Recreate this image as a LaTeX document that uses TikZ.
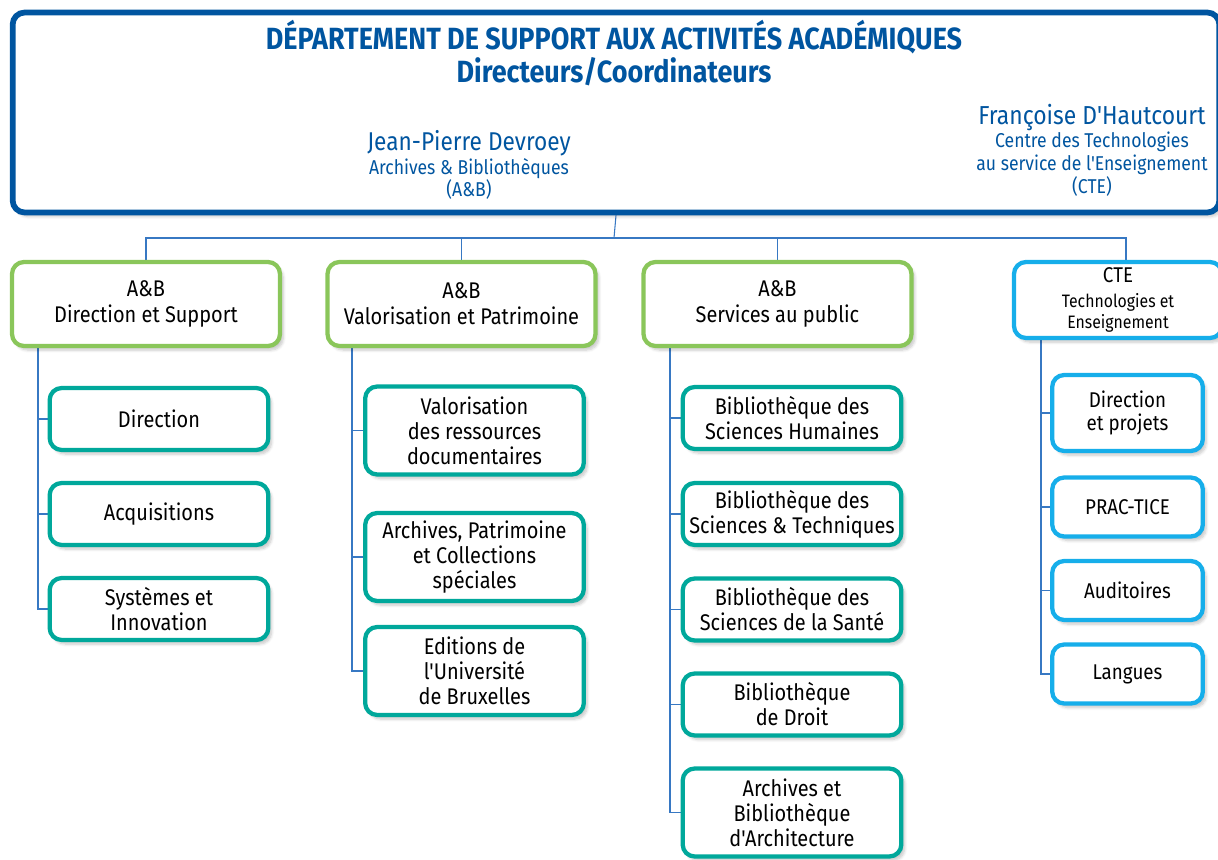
\documentclass[tikz,border=0pt]{standalone}
\usepackage{fontspec}
\setmainfont{Fira Sans}[FakeStretch=0.88, Ligatures=TeXOff]
\usetikzlibrary{shadows.blur}
\pgfdeclarelayer{background}
\pgfsetlayers{background,main}

\definecolor{deptblue}{RGB}{0,85,160}
\definecolor{linkblue}{RGB}{55,120,195}
\definecolor{abgreen}{RGB}{138,198,90}
\definecolor{unitteal}{RGB}{0,168,155}
\definecolor{ctecyan}{RGB}{22,174,234}

\tikzset{
  box/.style={draw, fill=white, rounded corners=9pt, align=center, line width=3.2pt,
    blur shadow={shadow xshift=2.5pt, shadow yshift=-3pt, shadow blur steps=6, shadow opacity=22}},
  abbox/.style={box, draw=abgreen, minimum width=201pt, minimum height=63pt,
    font=\fontsize{17}{19.5}\selectfont},
  unitbox/.style={box, draw=unitteal, minimum width=164pt, minimum height=46.5pt,
    font=\fontsize{17}{18.75}\selectfont},
  ctebox/.style={box, draw=ctecyan, minimum width=113pt, minimum height=44.25pt,
    font=\fontsize{16}{17}\selectfont},
  link/.style={draw=linkblue, line width=0.8pt},
}

\begin{document}
\begin{tikzpicture}[x=0.75pt,y=-0.75pt]
\useasboundingbox (0,0) rectangle (1218,860);

% departement
\node[box, draw=deptblue, line width=4.3pt, minimum width=905pt, minimum height=150pt] (dept) at (616,112.5) {};
\node[text=deptblue, align=center, font=\bfseries\fontsize{23}{24.75}\selectfont] (title) at (614,53)
  {DÉPARTEMENT DE SUPPORT AUX ACTIVITÉS ACADÉMIQUES\\Directeurs/Coordinateurs};
\node[text=deptblue, font=\fontsize{19.3}{22}\selectfont] (jpd) at (469,143) {Jean-Pierre Devroey};
\node[text=deptblue, align=center, font=\fontsize{15}{16.5}\selectfont] (jpd-unit) at (469,179)
  {Archives \& Bibliothèques\\(A\&B)};
\node[text=deptblue, font=\fontsize{19.5}{22}\selectfont] (fdh) at (1092,117) {Françoise D'Hautcourt};
\node[text=deptblue, align=center, font=\fontsize{15}{17.25}\selectfont] (fdh-unit) at (1092,164)
  {Centre des Technologies\\au service de l'Enseignement\\(CTE)};

% level 2
\node[abbox] (ds) at (146,304) {A\&B\\Direction et Support};
\node[abbox] (vp) at (461.5,304) {A\&B\\Valorisation et Patrimoine};
\node[abbox] (sp) at (777.5,304) {A\&B\\Services au public};
\node[box, draw=ctecyan, minimum width=156pt, minimum height=57pt, font=\fontsize{13.5}{15.75}\selectfont] (cte) at (1118,300)
  {{\fontsize{16}{18}\selectfont CTE}\\[2.5pt]Technologies et\\Enseignement};

% A&B Direction et Support
\node[unitbox] (dir) at (159,419) {Direction};
\node[unitbox] (acq) at (159,514) {Acquisitions};
\node[unitbox] (sys) at (159,609) {Systèmes et\\Innovation};

% A&B Valorisation et Patrimoine
\node[unitbox, minimum height=66pt] (val) at (474.5,430.5) {Valorisation\\des ressources\\documentaires};
\node[unitbox, minimum height=66pt] (apc) at (474.5,557) {Archives, Patrimoine\\et Collections\\spéciales};
\node[unitbox, minimum height=66pt] (edi) at (474.5,671) {Editions de\\l'Université\\de Bruxelles};

% A&B Services au public
\node[unitbox] (bsh) at (792,418) {Bibliothèque des\\Sciences Humaines};
\node[unitbox] (bst) at (792,514) {Bibliothèque des\\Sciences \& Techniques};
\node[unitbox] (bss) at (792,609.5) {Bibliothèque des\\Sciences de la Santé};
\node[unitbox] (droit) at (792,704.5) {Bibliothèque\\de Droit};
\node[unitbox, minimum height=66pt] (archi) at (792,812.5) {Archives et\\Bibliothèque\\d'Architecture};

% CTE
\node[ctebox, minimum height=57pt] (dp) at (1127.5,413) {Direction\\et projets};
\node[ctebox] (prac) at (1127.5,507) {PRAC-TICE};
\node[ctebox] (aud) at (1127.5,590.5) {Auditoires};
\node[ctebox] (lang) at (1127.5,674) {Langues};

% connectors
\coordinate (bus) at (614,238);
\coordinate (ds-t) at (38,0);
\coordinate (vp-t) at (352,0);
\coordinate (sp-t) at (670,0);
\coordinate (cte-t) at (1041,0);
\begin{pgfonlayer}{background}
\draw[link] (dept.south) -- (bus);
\draw[link] (ds.north) |- (bus);
\draw[link] (vp.north) |- (bus);
\draw[link] (sp.north) |- (bus);
\draw[link] ([xshift=6pt]cte.north) |- (bus);
\foreach \u in {dir,acq,sys} \draw[link] (ds.south -| ds-t) |- (\u.west);
\foreach \u in {val,apc,edi} \draw[link] (vp.south -| vp-t) |- (\u.west);
\foreach \u in {bsh,bst,bss,droit,archi} \draw[link] (sp.south -| sp-t) |- (\u.west);
\foreach \u in {dp,prac,aud,lang} \draw[link] (cte.south -| cte-t) |- (\u.west);
\end{pgfonlayer}
\end{tikzpicture}
\end{document}
